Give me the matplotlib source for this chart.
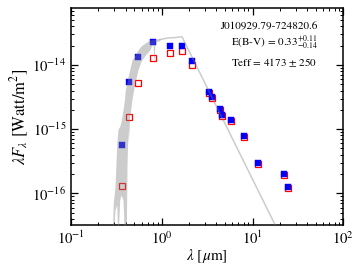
import matplotlib
matplotlib.use("Agg")
import matplotlib.pyplot as plt

plt.rcParams['font.family'] = 'serif'
plt.rcParams['font.serif'] = ['STIXGeneral', 'Liberation Serif', 'DejaVu Serif']
plt.rcParams['mathtext.fontset'] = 'stix'

# photometry: wavelength [um]
wave = [0.368, 0.44, 0.543, 0.797, 1.235, 1.66, 2.14, 3.32, 3.59, 4.43, 4.62,
        5.77, 8.02, 11.4, 22.1, 24.3]
# dereddened flux (blue filled)
flux_dered = [5.6e-16, 5.38e-15, 1.345e-14, 2.26e-14, 2.0e-14, 2.0e-14, 1.14e-14,
              3.76e-15, 3.2e-15, 2.04e-15, 1.65e-15, 1.38e-15, 7.83e-16,
              2.98e-16, 1.99e-16, 1.25e-16]
# observed flux (red open)
flux_obs = [1.32e-16, 1.53e-15, 5.25e-15, 1.27e-14, 1.52e-14, 1.67e-14, 1.0e-14,
            3.63e-15, 3.08e-15, 1.96e-15, 1.59e-15, 1.33e-15, 7.55e-16,
            2.88e-16, 1.92e-16, 1.21e-16]

# model spectrum: noisy optical part (envelope)
lam_band = [0.285, 0.292, 0.305, 0.319, 0.329, 0.344, 0.355, 0.374, 0.388, 0.396,
            0.406, 0.414, 0.424, 0.428, 0.443, 0.470, 0.507, 0.547, 0.590, 0.648,
            0.736, 0.800, 0.821, 0.842, 0.955]
band_upper = [1.9e-17, 7.1e-17, 1.25e-16, 5.7e-16, 1.0e-15, 1.1e-15, 1.3e-15, 2.0e-15,
              2.9e-15, 4.1e-15, 4.8e-15, 5.4e-15, 6.5e-15, 6.8e-15, 8.4e-15, 1.2e-14,
              1.43e-14, 1.71e-14, 1.98e-14, 2.18e-14, 2.45e-14, 2.5e-14, 2.52e-14,
              2.54e-14, 2.59e-14]
band_lower = [1.9e-17, 1.9e-17, 5.5e-17, 6.6e-17, 1.9e-17, 7.9e-17, 9.4e-17, 7.9e-17,
              1.9e-17, 1.9e-17, 1.9e-17, 2.8e-16, 9.7e-16, 6.1e-16, 1.5e-15, 2.95e-15,
              5.4e-15, 8.4e-15, 1.15e-14, 1.38e-14, 1.71e-14, 2.18e-14, 1.0e-14,
              2.28e-14, 2.41e-14]
# model spectrum: smooth infrared part
lam_line = [0.955, 1.17, 1.40, 1.67, 25.8]
flux_line = [2.5e-14, 2.64e-14, 2.68e-14, 2.76e-14, 1.10e-17]

xticks = [0.1, 1, 10, 100]
yticks = [1e-16, 1e-15, 1e-14]

fig = plt.figure(figsize=(3.54, 2.66), dpi=100)
ax = fig.add_axes([0.2006, 0.153, 0.7692, 0.8158])

ax.plot(wave, flux_obs, 's', ms=4.3, mfc='white', mec='red', mew=0.9, zorder=2)
ax.plot(wave, flux_dered, 's', ms=4.5, mfc='blue', mec='blue', mew=0.3, zorder=3)
ax.fill_between(lam_band, band_lower, band_upper, color='0.5', alpha=0.4, lw=0, zorder=4)
ax.plot(lam_line, flux_line, '-', color='0.5', alpha=0.4, lw=1.1, zorder=4)

ax.set_xscale('log')
ax.set_yscale('log')
ax.set_xticks(xticks)
ax.set_yticks(yticks)
ax.set_xlim(0.1, 100)
ax.set_ylim(3.17e-17, 7.66e-14)

ax.tick_params(which='both', direction='in', top=True, right=True, labelsize=10.5)
ax.tick_params(which='major', length=5, width=0.9)
ax.tick_params(which='minor', length=2.5, width=0.7)
for s in ax.spines.values():
    s.set_linewidth(1.1)

ax.set_xlabel(r'$\lambda$ [$\mu$m]', fontsize=11, labelpad=0)
ax.set_ylabel(r'$\lambda F_\lambda$ [Watt/m$^2$]', fontsize=12, labelpad=1)

tx = 0.905
ax.text(tx, 0.915, 'J010929.79-724820.6', transform=ax.transAxes, ha='right',
        va='center', fontsize=8)
ax.text(tx, 0.84, r'E(B-V) = 0.33$^{+0.11}_{-0.14}$', transform=ax.transAxes,
        ha='right', va='center', fontsize=8)
ax.text(tx, 0.75, r'Teff = 4173 $\pm$ 250', transform=ax.transAxes, ha='right',
        va='center', fontsize=8)

fig.savefig('out.png', dpi=100)
